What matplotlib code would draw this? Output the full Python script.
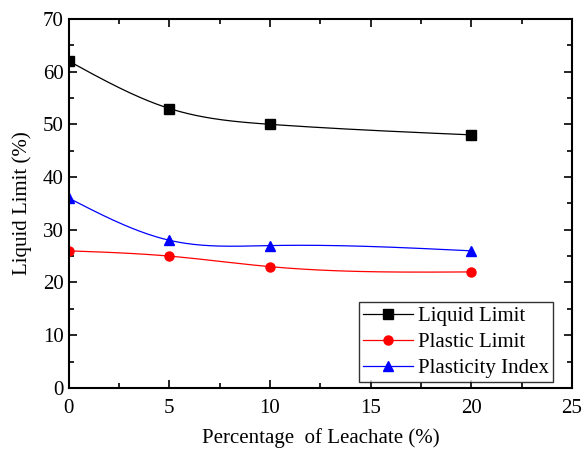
import numpy as np
import matplotlib.pyplot as plt

leachate = [0, 5, 10, 20]
liquid_limit = [62, 53, 50, 48]
plastic_limit = [26, 25, 23, 22]
plasticity_index = [36, 28, 27, 26]

plt.rcParams['font.family'] = ['Liberation Serif', 'DejaVu Serif']


def natural_spline(x, y, n=200):
    # plain natural cubic spline, to get the smooth Origin-style curves
    x = np.asarray(x, float)
    y = np.asarray(y, float)
    k = len(x)
    h = np.diff(x)
    A = np.zeros((k, k))
    b = np.zeros(k)
    A[0, 0] = A[-1, -1] = 1
    for i in range(1, k - 1):
        A[i, i - 1] = h[i - 1]
        A[i, i] = 2 * (h[i - 1] + h[i])
        A[i, i + 1] = h[i]
        b[i] = 6 * ((y[i + 1] - y[i]) / h[i] - (y[i] - y[i - 1]) / h[i - 1])
    M = np.linalg.solve(A, b)
    xs = np.linspace(x[0], x[-1], n)
    idx = np.clip(np.searchsorted(x, xs) - 1, 0, k - 2)
    x0, x1 = x[idx], x[idx + 1]
    hh = x1 - x0
    ys = (M[idx] * (x1 - xs) ** 3 / (6 * hh) + M[idx + 1] * (xs - x0) ** 3 / (6 * hh)
          + (y[idx] / hh - M[idx] * hh / 6) * (x1 - xs)
          + (y[idx + 1] / hh - M[idx + 1] * hh / 6) * (xs - x0))
    return xs, ys


fig = plt.figure(figsize=(5.83, 4.5), dpi=100)
ax = fig.add_axes([0.118, 0.138, 0.863, 0.82])

series = [
    (liquid_limit, 'black', 's', 'Liquid Limit'),
    (plastic_limit, 'red', 'o', 'Plastic Limit'),
    (plasticity_index, 'blue', '^', 'Plasticity Index'),
]
for vals, col, mk, lab in series:
    xs, ys = natural_spline(leachate, vals)
    ax.plot(xs, ys, color=col, lw=0.9)
    ax.plot(leachate, vals, ls='none', marker=mk, color=col, ms=6.5)
    ax.plot([], [], color=col, marker=mk, ms=6.5, lw=0.9, label=lab)

ax.set_xlim(0, 25)
ax.set_ylim(0, 70)
ax.set_xticks([0, 5, 10, 15, 20, 25])
ax.set_yticks(range(0, 71, 10))
ax.set_xticks(np.arange(0, 25, 2.5), minor=True)
ax.set_yticks(range(5, 70, 10), minor=True)
ax.tick_params(which='both', direction='in', top=True, right=True, labelsize=15)
ax.tick_params(which='major', length=6, width=1.2)
ax.tick_params(which='minor', length=3.5, width=1.2)
ax.tick_params(axis='x', pad=8)
for s in ax.spines.values():
    s.set_linewidth(1.5)

ax.set_xlabel('Percentage  of Leachate (%)', fontsize=15, labelpad=7)
ax.set_ylabel('Liquid Limit (%)', fontsize=15, labelpad=8)

leg = ax.legend(loc='lower right', fontsize=15, frameon=True, fancybox=False,
                edgecolor='black', handlelength=2.4, borderpad=0.2,
                labelspacing=0.3, handletextpad=0.2, borderaxespad=0.0,
                bbox_to_anchor=(0.962, 0.016))
leg.get_frame().set_linewidth(1.0)

fig.savefig('out.png', dpi=100)
